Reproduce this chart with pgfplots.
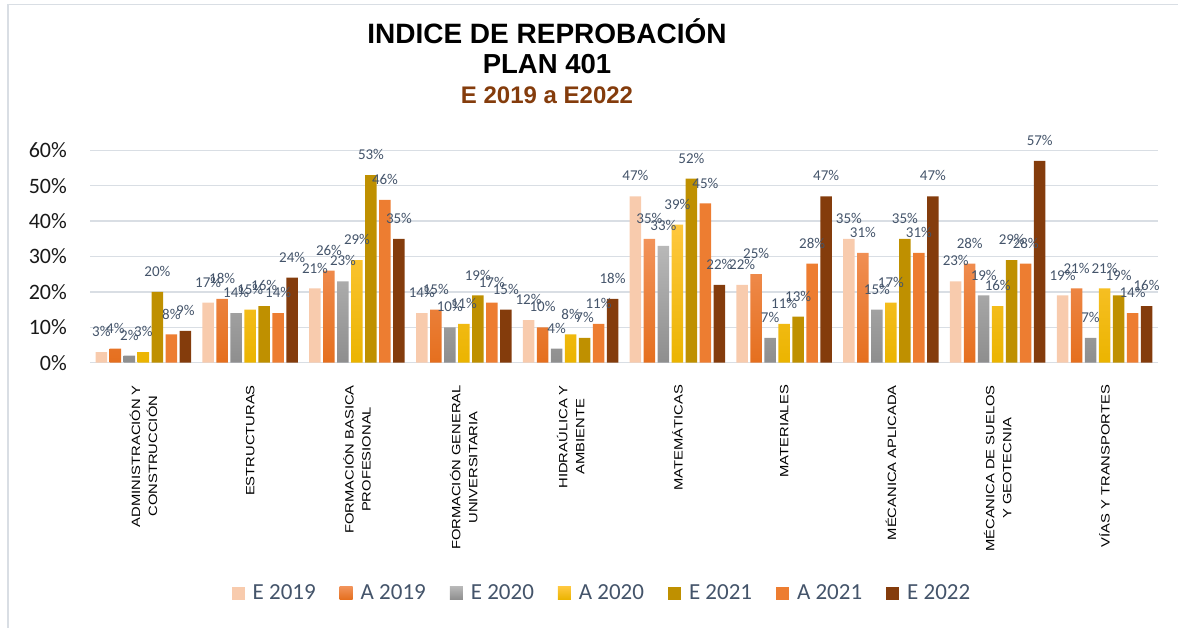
\documentclass[border=0pt]{standalone}
\usepackage{fontspec}
\setmainfont{Liberation Sans}
\newfontfamily\calib{Carlito}
\newfontfamily\catfont[FakeStretch=1.23]{Liberation Sans}
\usepackage{pgfplots}
\pgfplotsset{compat=1.18}
\definecolor{cE19}{HTML}{F8CBAD}
\definecolor{cA19t}{HTML}{F2935A}
\definecolor{cA19b}{HTML}{E56F1E}
\definecolor{cE20t}{HTML}{B8B8B8}
\definecolor{cE20b}{HTML}{8E8E8E}
\definecolor{cA20t}{HTML}{FFC83F}
\definecolor{cA20b}{HTML}{EBB400}
\definecolor{cE21}{HTML}{BF9000}
\definecolor{cA21}{HTML}{ED7D31}
\definecolor{cE22}{HTML}{843C0C}
\definecolor{lab}{HTML}{44546A}
\definecolor{gridc}{HTML}{D9DEE4}
\definecolor{brn}{HTML}{843C0C}
\begin{document}
\begin{tikzpicture}
\path[use as bounding box] (0,0) rectangle (1178bp,628bp);
\draw[color=gridc, line width=1.5bp] (8bp,0) -- (8bp,623.5bp) -- (1178bp,623.5bp);
\node[font=\bfseries\fontsize{28bp}{30bp}\selectfont, anchor=base] at (547bp,584.7bp) {INDICE DE REPROBACIÓN};
\node[font=\bfseries\fontsize{27.5bp}{30bp}\selectfont, anchor=base] at (547bp,554bp) {PLAN 401};
\node[font=\bfseries\fontsize{24bp}{26bp}\selectfont, anchor=base, text=brn] at (547bp,524bp) {E 2019 a E2022};
\begin{axis}[
  at={(90bp,265.3bp)}, anchor=south west,
  scale only axis, width=1068bp, height=212.4bp,
  xmin=-0.5, xmax=9.5, ymin=0, ymax=60,
  clip=false,
  ybar=2.5bp, bar width=11.5bp,
  axis line style={draw=none},
  tick style={draw=none},
  ymajorgrids, major grid style={color=gridc, line width=1.3bp},
  ytick={0,10,20,30,40,50,60},
  yticklabels={0\%,10\%,20\%,30\%,40\%,50\%,60\%},
  yticklabel style={font=\calib\fontsize{22bp}{24bp}\selectfont, text=black!90, inner sep=0pt, anchor=east},
  yticklabel shift=23bp,
  xtick={0,...,9},
  xticklabels={{ADMINISTRACIÓN Y\\CONSTRUCCIÓN},{ESTRUCTURAS},{FORMACIÓN BASICA\\PROFESIONAL},{FORMACIÓN GENERAL\\UNIVERSITARIA},{HIDRAÚLICA Y\\AMBIENTE},{MATEMÁTICAS},{MATERIALES},{MÉCANICA APLICADA},{MÉCANICA DE SUELOS\\Y GEOTECNIA},{VÍAS Y TRANSPORTES}},
  xticklabel style={font=\catfont\fontsize{12bp}{17bp}\selectfont, rotate=90, anchor=east, align=center, inner sep=0pt, text=black},
  xticklabel shift=18bp,
  /pgf/number format/assume math mode=true,
  nodes near coords={\pgfmathprintnumber{\pgfplotspointmeta}\%},
  every node near coord/.append style={font=\calib\fontsize{15bp}{17bp}\selectfont, text=lab, inner sep=0pt, anchor=south, yshift=15bp},
  legend columns=7,
  legend style={draw=none, fill=none, at={(axis description cs:0.4794,-1.0843)}, anchor=center,
    font=\calib\fontsize{23bp}{26bp}\selectfont, text=lab,
    /tikz/every even column/.append style={column sep=22bp},
    /tikz/every odd column/.append style={column sep=6bp}},
  legend image code/.code={\path[#1, draw=none] (0bp,-6.5bp) rectangle (13bp,6.5bp);},
]
\addplot[fill=cE19, draw=none] coordinates {(0,3) (1,17) (2,21) (3,14) (4,12) (5,47) (6,22) (7,35) (8,23) (9,19)};
\addplot[top color=cA19t, bottom color=cA19b, draw=none] coordinates {(0,4) (1,18) (2,26) (3,15) (4,10) (5,35) (6,25) (7,31) (8,28) (9,21)};
\addplot[top color=cE20t, bottom color=cE20b, draw=none] coordinates {(0,2) (1,14) (2,23) (3,10) (4,4) (5,33) (6,7) (7,15) (8,19) (9,7)};
\addplot[top color=cA20t, bottom color=cA20b, draw=none] coordinates {(0,3) (1,15) (2,29) (3,11) (4,8) (5,39) (6,11) (7,17) (8,16) (9,21)};
\addplot[fill=cE21, draw=none] coordinates {(0,20) (1,16) (2,53) (3,19) (4,7) (5,52) (6,13) (7,35) (8,29) (9,19)};
\addplot[fill=cA21, draw=none] coordinates {(0,8) (1,14) (2,46) (3,17) (4,11) (5,45) (6,28) (7,31) (8,28) (9,14)};
\addplot[fill=cE22, draw=none] coordinates {(0,9) (1,24) (2,35) (3,15) (4,18) (5,22) (6,47) (7,47) (8,57) (9,16)};
\legend{E 2019,A 2019,E 2020,A 2020,E 2021,A 2021,E 2022}
\end{axis}
\end{tikzpicture}
\end{document}
